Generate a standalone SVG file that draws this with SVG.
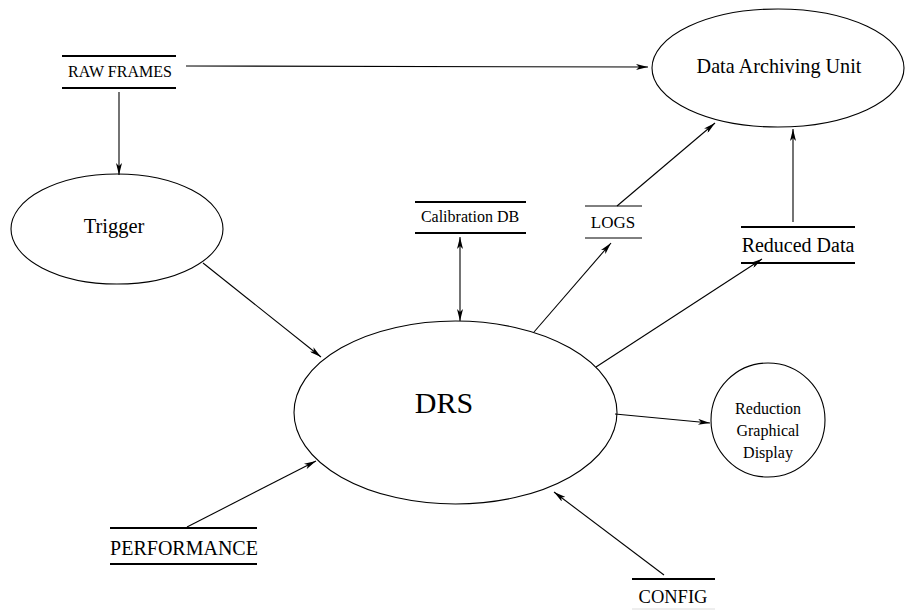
<svg xmlns="http://www.w3.org/2000/svg" width="911" height="611" viewBox="0 0 911 611" font-family="'Liberation Serif', 'DejaVu Serif', 'Times New Roman', serif">
<style>
text{font-family:"Liberation Serif","DejaVu Serif","Times New Roman",serif;fill:#000;text-anchor:middle}
.n{fill:none;stroke:#000;stroke-width:1.1}
.bar{stroke:#000;stroke-width:2}
.thin{stroke:#000;stroke-width:1}
.c{fill:none;stroke:#000;stroke-width:1.1}
</style>
<defs>
<marker id="ah" viewBox="0 0 12 6" refX="12" refY="3" markerWidth="12" markerHeight="6" markerUnits="userSpaceOnUse" orient="auto-start-reverse">
<path d="M0,0 L12,3 L0,6 L3,3 z" fill="#000"/>
</marker>
</defs>
<rect width="911" height="611" fill="#fff"/>
<g id="data-archiving"><ellipse class="n" cx="778" cy="68" rx="126" ry="59"/><text x="779" y="73" font-size="20.2">Data Archiving Unit</text></g>
<g id="raw-frames"><line class="bar" x1="62" y1="56" x2="176" y2="56"/><line class="bar" x1="62" y1="88" x2="176" y2="88"/><text x="120" y="77" font-size="16">RAW FRAMES</text></g>
<g id="trigger"><ellipse class="n" cx="117" cy="229" rx="106" ry="55"/><text x="114" y="233" font-size="20.5">Trigger</text></g>
<g id="calibration-db"><line class="bar" x1="415" y1="202" x2="526" y2="202"/><line class="bar" x1="415" y1="233" x2="526" y2="233"/><text x="470" y="222" font-size="16">Calibration DB</text></g>
<g id="logs"><line class="thin" x1="585" y1="206" x2="642" y2="206"/><line class="thin" x1="585" y1="238" x2="642" y2="238"/><text x="613" y="228" font-size="17">LOGS</text></g>
<g id="reduced-data"><line class="bar" x1="741" y1="227" x2="855" y2="227"/><line class="bar" x1="741" y1="263" x2="855" y2="263"/><text x="798" y="252" font-size="20">Reduced Data</text></g>
<g id="drs"><ellipse class="n" cx="455.5" cy="412.5" rx="161.5" ry="91.5"/><text x="444" y="413" font-size="30">DRS</text></g>
<g id="reduction-display"><circle class="n" cx="768" cy="420" r="57"/><text x="768" y="414" font-size="16">Reduction</text><text x="768" y="436" font-size="16">Graphical</text><text x="768" y="458" font-size="16">Display</text></g>
<g id="performance"><line class="bar" x1="110" y1="528" x2="257" y2="528"/><line class="bar" x1="110" y1="564" x2="257" y2="564"/><text x="184" y="555" font-size="20">PERFORMANCE</text></g>
<g id="config"><line class="bar" x1="632" y1="579" x2="715" y2="579"/><line x1="632" y1="609" x2="715" y2="609" stroke="#ddd" stroke-width="1"/><text x="673" y="603" font-size="18.5">CONFIG</text></g>
<g id="connectors">
<line class="c" x1="186" y1="66" x2="648" y2="67" marker-end="url(#ah)"/>
<line class="c" x1="119" y1="92" x2="119" y2="175" marker-end="url(#ah)"/>
<line class="c" x1="203" y1="263" x2="321" y2="357" marker-end="url(#ah)"/>
<line class="c" x1="460" y1="237" x2="460" y2="321" marker-start="url(#ah)" marker-end="url(#ah)"/>
<line class="c" x1="534" y1="332" x2="611" y2="243" marker-end="url(#ah)"/>
<line class="c" x1="617" y1="206" x2="715" y2="123" marker-end="url(#ah)"/>
<line class="c" x1="596" y1="367" x2="762" y2="259" marker-end="url(#ah)"/>
<line class="c" x1="793" y1="222" x2="793" y2="129" marker-end="url(#ah)"/>
<line class="c" x1="615" y1="414" x2="710" y2="423" marker-end="url(#ah)"/>
<line class="c" x1="187" y1="527" x2="316" y2="461" marker-end="url(#ah)"/>
<line class="c" x1="664" y1="575" x2="554" y2="492" marker-end="url(#ah)"/>
</g>
</svg>
